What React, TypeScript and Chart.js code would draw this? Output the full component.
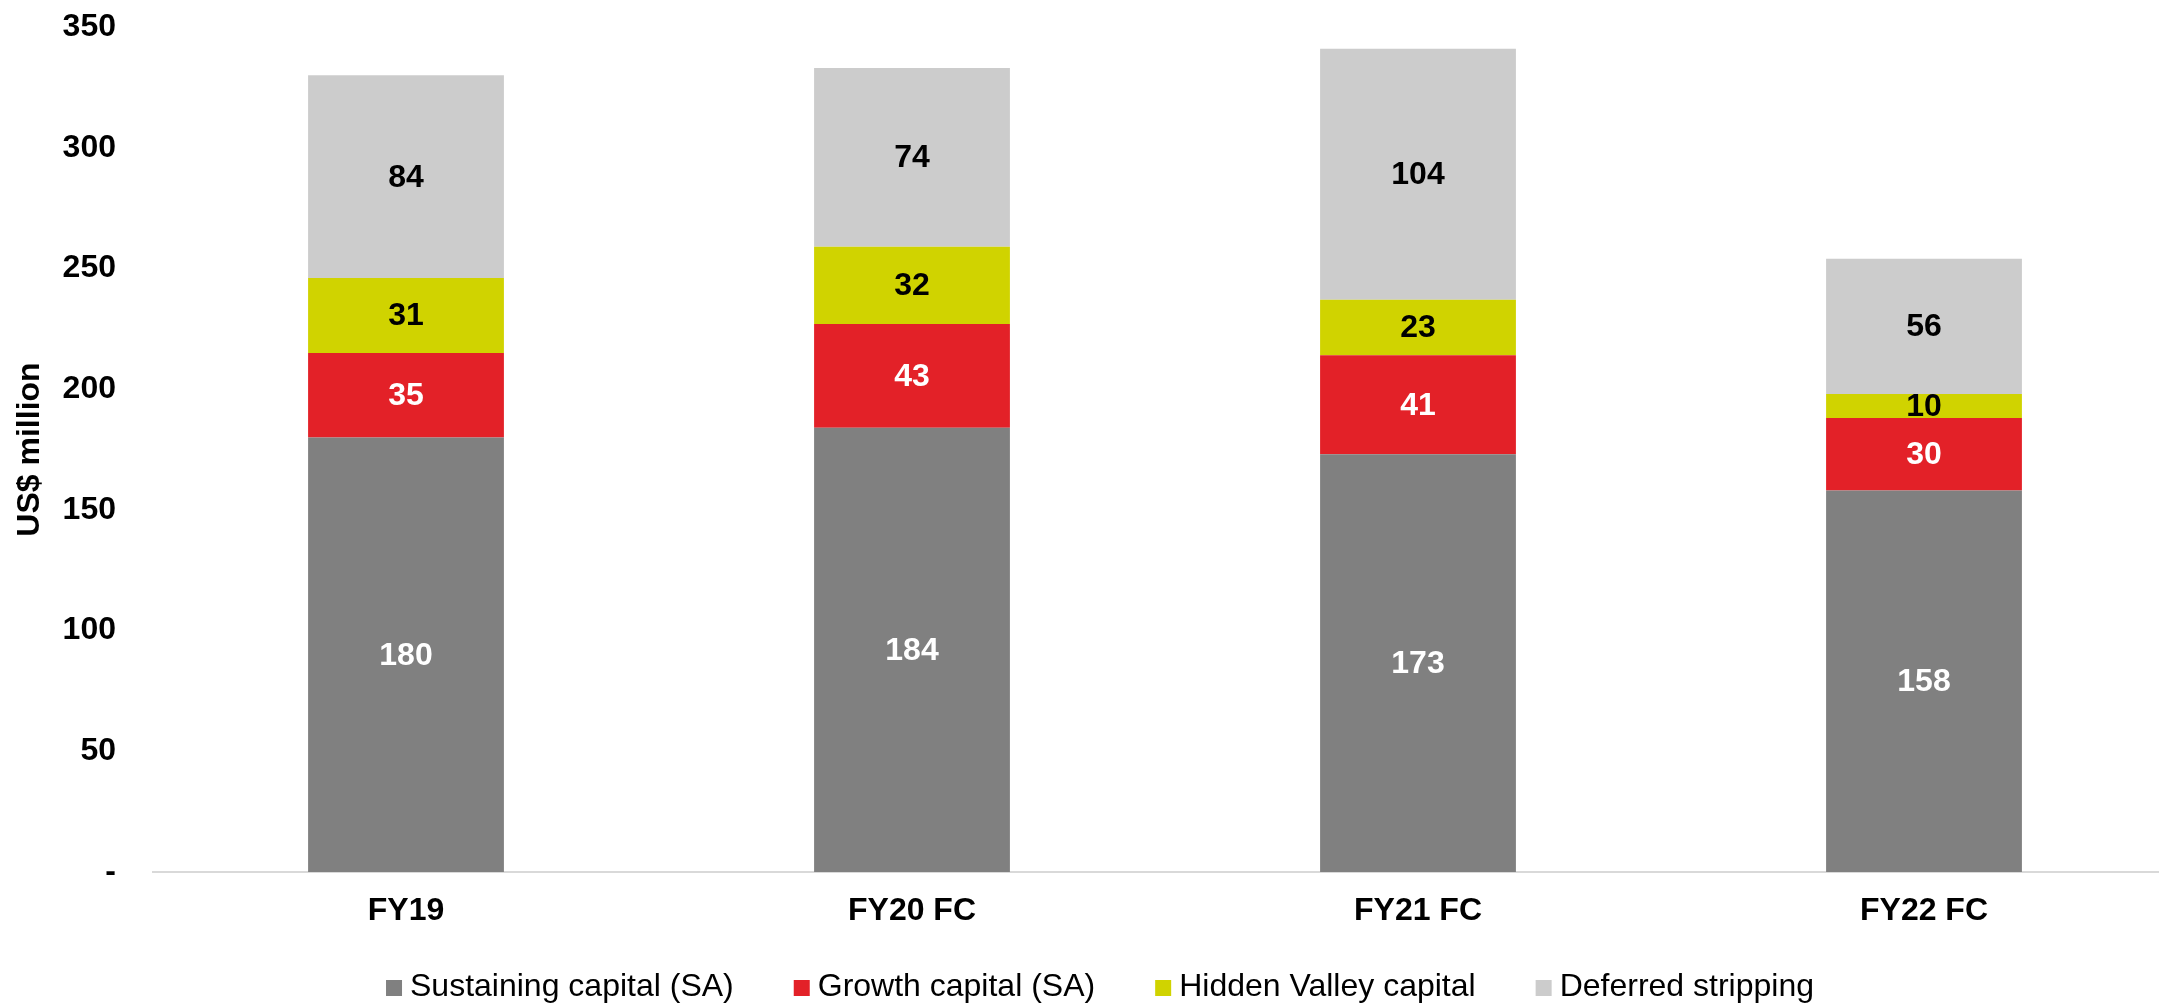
import React, { useEffect, useRef } from "react";
import { Chart, registerables } from "chart.js";

Chart.register(...registerables);

// Capital expenditure by year, US$ million
const categories = ["FY19", "FY20 FC", "FY21 FC", "FY22 FC"];
const sustainingCapital = [180, 184, 173, 158];
const growthCapital = [35, 43, 41, 30];
const hiddenValleyCapital = [31, 32, 23, 10];
const deferredStripping = [84, 74, 104, 56];
const yTicks = [0, 50, 100, 150, 200, 250, 300, 350];

const seriesNames = [
  "Sustaining capital (SA)",
  "Growth capital (SA)",
  "Hidden Valley capital",
  "Deferred stripping",
];
const seriesColors = ["#808080", "#E32128", "#D0D300", "#CCCCCC"];
const labelColors = ["#FFFFFF", "#FFFFFF", "#000000", "#000000"];

const FONT = "'Liberation Sans', Arial, sans-serif";
const CANVAS_W = 2200;
const CANVAS_H = 1004;

// Writes each segment's value in the middle of its bar section
const segmentLabels = {
  id: "segmentLabels",
  afterDatasetsDraw(chart: any) {
    const ctx = chart.ctx;
    ctx.save();
    ctx.font = `bold 32px ${FONT}`;
    ctx.textAlign = "center";
    ctx.textBaseline = "middle";
    chart.data.datasets.forEach((ds: any, di: number) => {
      const meta = chart.getDatasetMeta(di);
      meta.data.forEach((el: any, i: number) => {
        const v = ds.data[i];
        ctx.fillStyle = labelColors[di];
        ctx.fillText(String(v), el.x, (el.y + el.base) / 2 + 1);
      });
    });
    ctx.restore();
  },
};

// Square-marker legend along the bottom of the canvas
const bottomLegend = {
  id: "bottomLegend",
  afterDraw(chart: any) {
    const ctx = chart.ctx;
    ctx.save();
    ctx.font = `32px ${FONT}`;
    ctx.textBaseline = "middle";
    ctx.textAlign = "left";
    const box = 16;
    const gapText = 8;
    const gapItem = 60;
    const widths = seriesNames.map((n) => box + gapText + ctx.measureText(n).width);
    const total = widths.reduce((a, b) => a + b, 0) + gapItem * (widths.length - 1);
    let x = chart.width / 2 - total / 2;
    const y = 987;
    seriesNames.forEach((name, i) => {
      ctx.fillStyle = seriesColors[i];
      ctx.fillRect(x, y - box / 2 + 1, box, box);
      ctx.fillStyle = "#000000";
      ctx.fillText(name, x + box + gapText, y);
      x += widths[i] + gapItem;
    });
    ctx.restore();
  },
};

export default function App() {
  const canvasRef = useRef<HTMLCanvasElement | null>(null);

  useEffect(() => {
    const canvas = canvasRef.current;
    if (!canvas) return;
    const series = [sustainingCapital, growthCapital, hiddenValleyCapital, deferredStripping];
    const chart = new Chart(canvas, {
      type: "bar",
      data: {
        labels: categories,
        datasets: series.map((values, i) => ({
          label: seriesNames[i],
          data: values,
          backgroundColor: seriesColors[i],
          borderWidth: 0,
          categoryPercentage: 1,
          barPercentage: 0.387,
        })),
      },
      plugins: [segmentLabels, bottomLegend],
      options: {
        responsive: false,
        animation: false,
        devicePixelRatio: 1,
        layout: { padding: { top: 27, right: 23, bottom: 73, left: 0 } },
        plugins: {
          legend: { display: false },
          tooltip: { enabled: false },
        },
        scales: {
          x: {
            stacked: true,
            grid: { display: false, drawTicks: false },
            border: { display: true, color: "#D9D9D9", width: 2 },
            ticks: {
              color: "#000000",
              font: { family: FONT, size: 32, weight: "bold" },
              padding: 20,
            },
            afterFit(scale: any) {
              scale.height = 59;
            },
          },
          y: {
            stacked: true,
            min: 0,
            max: 350,
            afterBuildTicks(scale: any) {
              scale.ticks = yTicks.map((v) => ({ value: v }));
            },
            grid: { display: false, drawTicks: false },
            border: { display: false },
            ticks: {
              color: "#000000",
              font: { family: FONT, size: 32, weight: "bold" },
              padding: 37,
              callback: (v: any) => (Number(v) === 0 ? "-" : String(v)),
            },
            title: {
              display: true,
              text: "US$ million",
              color: "#000000",
              font: { family: FONT, size: 32, weight: "bold" },
              padding: { top: 11, bottom: 0 },
            },
            afterFit(scale: any) {
              scale.width = 153;
              // room above the top tick comes from the layout padding alone
              scale.paddingTop = 0;
              scale.paddingBottom = 0;
            },
          },
        },
      },
    });
    return () => chart.destroy();
  }, []);

  return (
    <div
      style={{
        position: "absolute",
        left: 0,
        top: 0,
        width: 2159,
        height: CANVAS_H,
        overflow: "hidden",
        background: "#FFFFFF",
      }}
    >
      <canvas ref={canvasRef} width={CANVAS_W} height={CANVAS_H} style={{ display: "block" }} />
    </div>
  );
}
